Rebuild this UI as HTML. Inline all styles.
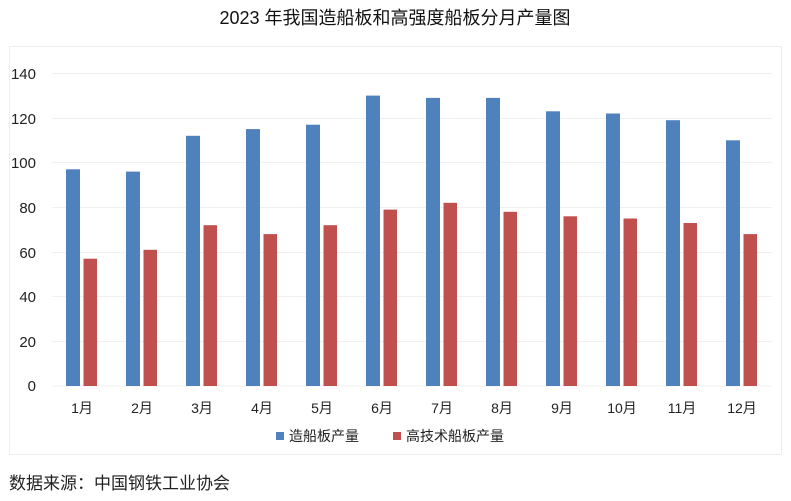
<!DOCTYPE html>
<html><head><meta charset="utf-8"><style>
body{margin:0;background:#fff;width:791px;height:496px;overflow:hidden;}
</style></head><body>
<svg width="791" height="496" xmlns="http://www.w3.org/2000/svg" font-family="Liberation Sans, Noto Sans CJK SC, sans-serif">
<rect x="0" y="0" width="791" height="496" fill="#fff"/>
<text x="395" y="24" font-size="18" text-anchor="middle" fill="#111">2023 年我国造船板和高强度船板分月产量图</text>
<rect x="9.5" y="46.5" width="772" height="408" fill="none" stroke="#eeeeee"/>
<g stroke="#f0f0f0" stroke-width="1">
<line x1="52" x2="772" y1="73.5" y2="73.5"/><line x1="52" x2="772" y1="118.5" y2="118.5"/>
<line x1="52" x2="772" y1="162.5" y2="162.5"/><line x1="52" x2="772" y1="207.5" y2="207.5"/>
<line x1="52" x2="772" y1="252.5" y2="252.5"/><line x1="52" x2="772" y1="296.5" y2="296.5"/>
<line x1="52" x2="772" y1="341.5" y2="341.5"/><line x1="52" x2="772" y1="386" y2="386"/>
</g>
<g font-size="15" fill="#222" text-anchor="end">
<text x="36" y="79">140</text><text x="36" y="124">120</text><text x="36" y="168">100</text>
<text x="36" y="213">80</text><text x="36" y="258">60</text><text x="36" y="302">40</text>
<text x="36" y="347">20</text><text x="36" y="391">0</text>
</g>
<g fill="#4f81bd">
<rect x="66" y="169.3" width="14" height="216.7"/>
<rect x="126" y="171.6" width="14" height="214.4"/>
<rect x="186" y="135.8" width="14" height="250.2"/>
<rect x="246" y="129.1" width="14" height="256.9"/>
<rect x="306" y="124.7" width="14" height="261.3"/>
<rect x="366" y="95.6" width="14" height="290.4"/>
<rect x="426" y="97.9" width="14" height="288.1"/>
<rect x="486" y="97.9" width="14" height="288.1"/>
<rect x="546" y="111.3" width="14" height="274.7"/>
<rect x="606" y="113.5" width="14" height="272.5"/>
<rect x="666" y="120.2" width="14" height="265.8"/>
<rect x="726" y="140.3" width="14" height="245.7"/>
</g>
<g fill="#c0504d">
<rect x="83.5" y="258.7" width="13.5" height="127.3"/>
<rect x="143.5" y="249.8" width="13.5" height="136.2"/>
<rect x="203.5" y="225.2" width="13.5" height="160.8"/>
<rect x="263.5" y="234.1" width="13.5" height="151.9"/>
<rect x="323.5" y="225.2" width="13.5" height="160.8"/>
<rect x="383.5" y="209.6" width="13.5" height="176.4"/>
<rect x="443.5" y="202.8" width="13.5" height="183.2"/>
<rect x="503.5" y="211.8" width="13.5" height="174.2"/>
<rect x="563.5" y="216.3" width="13.5" height="169.7"/>
<rect x="623.5" y="218.5" width="13.5" height="167.5"/>
<rect x="683.5" y="223.0" width="13.5" height="163.0"/>
<rect x="743.5" y="234.1" width="13.5" height="151.9"/>
</g>
<g font-size="14" fill="#222" text-anchor="middle">
<text x="82" y="413">1月</text><text x="142" y="413">2月</text><text x="202" y="413">3月</text>
<text x="262" y="413">4月</text><text x="322" y="413">5月</text><text x="382" y="413">6月</text>
<text x="442" y="413">7月</text><text x="502" y="413">8月</text><text x="562" y="413">9月</text>
<text x="622" y="413">10月</text><text x="682" y="413">11月</text><text x="742" y="413">12月</text>
</g>
<rect x="276" y="432" width="8" height="8" fill="#4f81bd"/>
<text x="289" y="441" font-size="14" fill="#222">造船板产量</text>
<rect x="393" y="432" width="8" height="8" fill="#c0504d"/>
<text x="406" y="441" font-size="14" fill="#222">高技术船板产量</text>
<text x="9" y="489" font-size="17" fill="#222">数据来源：中国钢铁工业协会</text>
</svg>
</body></html>
